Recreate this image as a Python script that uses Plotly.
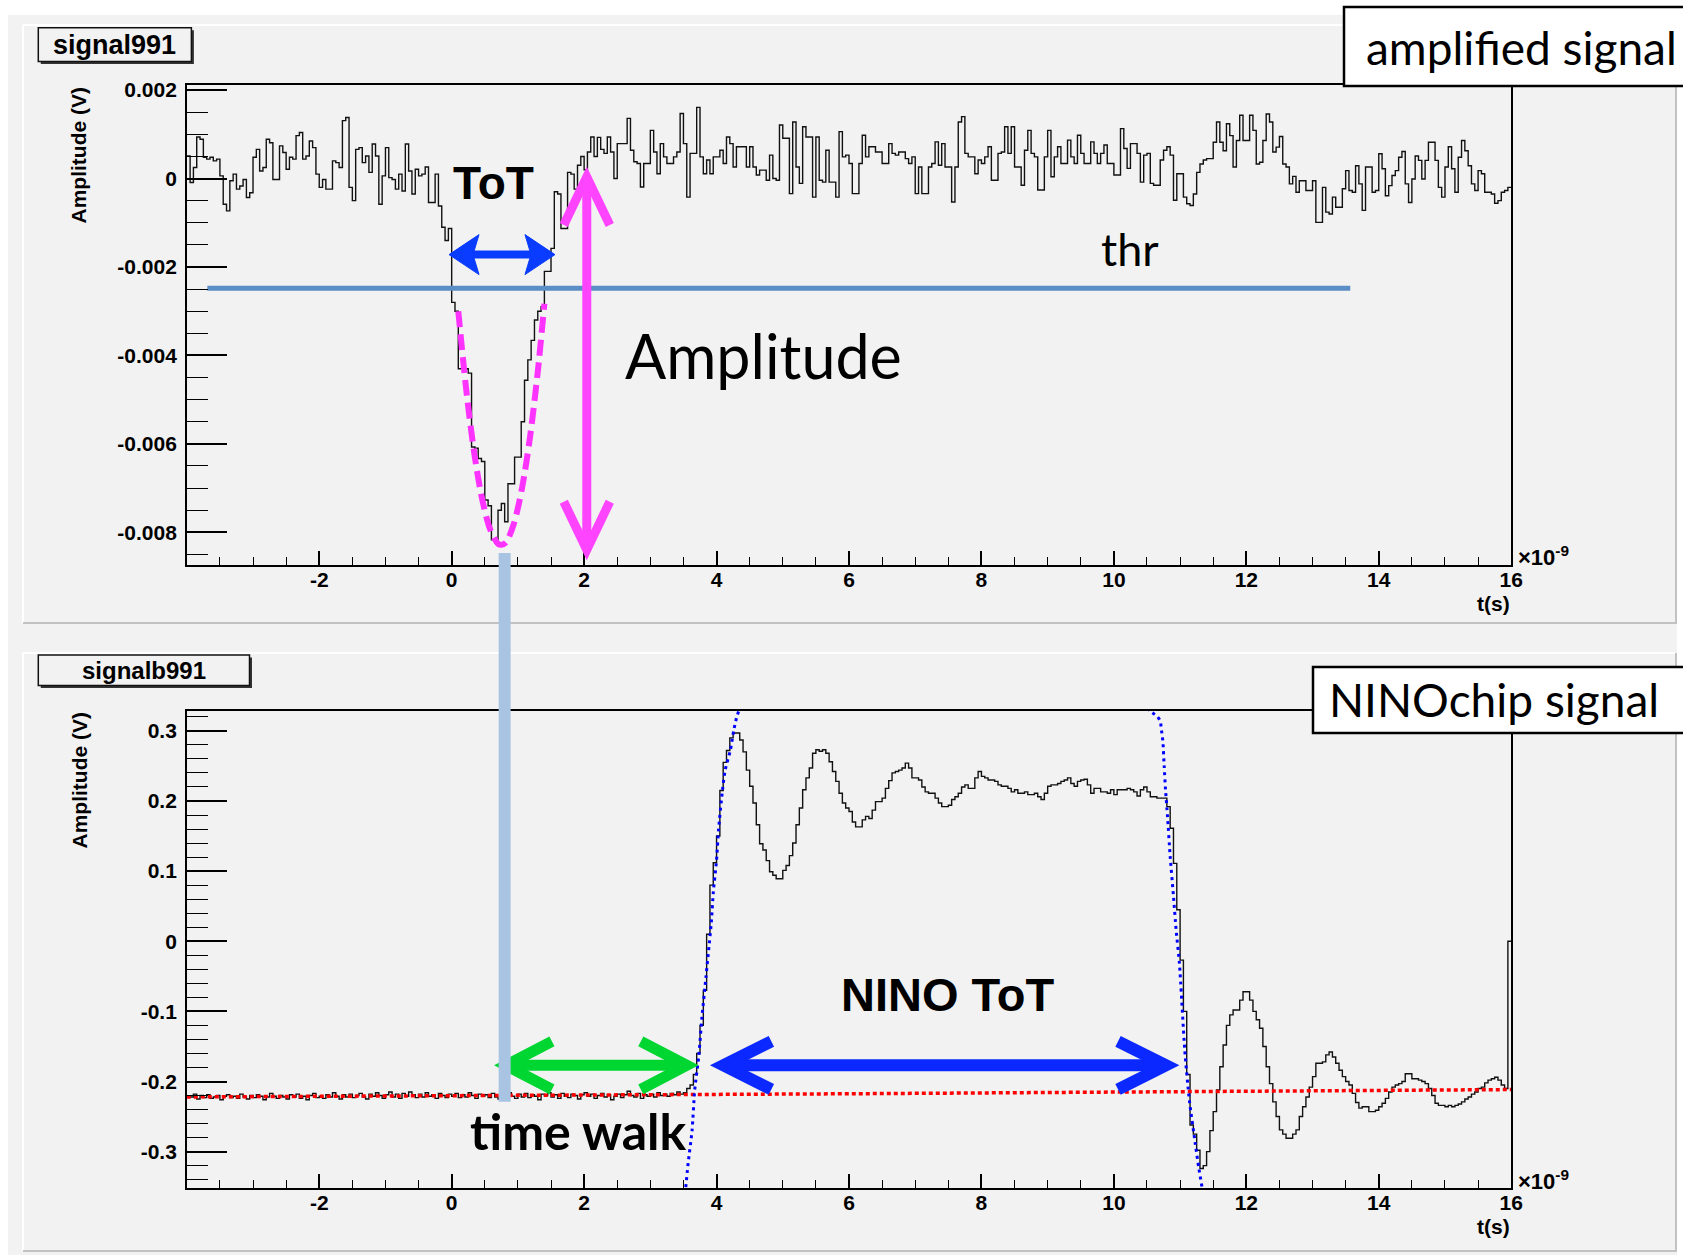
import math
import plotly.graph_objects as go

W, H = 1683, 1258

# Scope sampling shared by both channels (ns)
T_START = -4.0
BIN_NS = 0.05

# Amplified signal, one value per 0.05 ns bin starting at -4 ns, units of 1e-5 V
AMP_SIGNAL = [
    51, -9, 25, 94, 89, 48, 44, 48, 40, 44,
    6, -58, -73, -5, 10, -24, -17, -2, -43, -32,
    48, 66, 17, 25, 89, 81, -2, -2, 74, 59,
    21, 48, 44, 97, 104, 44, 51, 85, 70, 10,
    -20, -2, -24, -24, 40, 36, 25, 131, 138, -20,
    -50, 66, 70, 36, 51, 14, 78, 51, -58, 6,
    70, 2, -2, -24, 10, -28, 78, 17, -35, 21,
    6, 10, 26, -54, -54, 10, -62, -110, -140, -113,
    -280, -300, -430, -430, -430, -440, -607, -610, -633, -640,
    -727, -740, -817, -825, -750, -735, -776, -690, -690, -630,
    -630, -550, -456, -410, -366, -320, -300, -290, -210, -210,
    -158, -30, -35, -113, -113, 14, 10, -24,
    30, 50, 20, 60, 94, 50, 93, 66,
    57, 94, 60, 0, 79, 79, 79,
    136, 64, 38, 34, -19, 34, 34,
    109, 60, 11, 79, 49, 34, 34,
    49, 60, 147, 79, -42, 57, 57,
    161, 49, 11, 42, 11, 49, 49,
    64, 34, 94, 79, 26, 72, 72,
    72, 26, 72, 26, 8, 19, 19,
    -4, 53, 0, -4, 121, 91, 91,
    -34, 128, 26, -11, 117, 94, 94,
    -42, 94, -4, -8, 64, -8, -8,
    -42, 106, 49, 53, 34, -34, -34,
    34, 98, 49, 72, 72, 60, 60,
    34, 34, 79, 57, 53, 60, 60,
    45, 34, 49, -34, 26, -34, -34,
    26, 34, 83, 30, 79, 26, 26,
    -53, 26, 128, 140, 57, 49, 49,
    11, 42, 34, 49, 72, -4, -4,
    57, 60, 117, 57, 117, 26, 26,
    -15, 64, 109, 57, 49, -26, -26,
    49, 109, 4, 49, 72, 34, 34,
    87, 49, 34, 98, 57, 34, 34,
    83, 57, 34, 57, 76, 34, 34,
    8, 8, 113, 68, 23, 79, 79,
    57, -8, 53, 57, -11, -15, -15,
    42, 64, 72, 53, -49, 11, 11,
    -42, -57, -61, -35, 14, 33, 42, 45, 45, 82,
    128, 82, 63, 124, 97, 26, 86, 143, 86, 86,
    143, 109, 33, 37, 86, 146, 128, 60, 71, 95,
    33, 26, -12, 5, -31, -5, -5, -27, -27, -5,
    -99, -99, -20, -76, -80, -42, -65, -65, -23, 18,
    -27, -31, 29, -12, -72, 26, 26, -31, -27, 56,
    22, -39, -16, 7, 18, 48, 61, -12, -54, -1,
    51, 41, -1, 41, 82, 82, 41, -20, -42, 26,
    72, 22, -31, 48, 86, 63, 29, -12, -27, 18,
    11, -31, -31, -35, -56, -50, -31, -27, -20,
]

# NINO chip output, one value per 0.05 ns bin starting at -4 ns, units of mV
NINO_SIGNAL = [
    -221, -222, -218, -225, -220, -223, -219, -224, -222, -220,
    -226, -221, -219, -223, -221, -224, -218, -222, -225, -220,
    -223, -219, -221, -226, -222, -217, -221, -224, -220, -222,
    -225, -219, -222, -218, -224, -221, -226, -220, -217, -223,
    -221, -224, -219, -222, -216, -221, -225, -219, -222, -218,
    -223, -220, -217, -222, -225, -218, -221, -216, -220, -224,
    -219, -215, -222, -218, -224, -217, -221, -215, -219, -223,
    -218, -222, -216, -221, -219, -224, -217, -220, -223, -218,
    -221, -217, -223, -219, -222, -216, -220, -224, -218, -221,
    -219, -223, -217, -222, -225, -218, -220, -216, -221, -224,
    -218, -222, -217, -223, -219, -221, -226, -218, -220, -216,
    -222, -219, -224, -217, -221, -223, -218, -220, -225, -219,
    -216, -221, -218, -224, -220, -217, -222, -219, -226, -221,
    -218, -223, -219, -214, -220, -222, -217, -224, -219, -221,
    -218, -222, -216, -220, -218, -221, -217, -219, -215, -218,
    -216, -210, -205, -190, -160, -120, -70, 10, 80, 112,
    150, 215, 255, 272, 290, 297, 297, 287, 270, 244,
    221, 197, 166, 139, 130, 115, 99, 94, 89, 89,
    101, 108, 122, 140, 166, 190, 216, 233, 247, 268,
    273, 271, 273, 268, 256, 242, 228, 211, 197, 190,
    185, 170, 163, 163, 173, 178, 175, 187, 199, 199,
    204, 218, 229, 240, 242, 244, 247, 254, 247, 233,
    233, 230, 220, 213, 211, 211, 204, 197, 192, 192,
    194, 202, 206, 211, 220, 223, 218, 218, 233, 242,
    235, 233, 230, 230, 228, 223, 221, 221, 218, 213,
    216, 211, 211, 213, 209, 209, 211, 206, 202, 211,
    221, 223, 223, 225, 228, 230, 233, 225, 221, 228,
    230, 231, 223, 211, 218, 218, 213, 213, 211, 216,
    209, 216, 216, 216, 218, 216, 213, 207, 216, 220,
    213, 206, 206, 204, 204, 204, 192, 161, 111, 45,
    -27, -100, -190, -262, -275, -298, -324, -320, -300, -270,
    -243, -212, -179, -148, -120, -105, -98, -98, -84, -72,
    -72, -84, -100, -112, -124, -150, -179, -203, -229, -250,
    -269, -275, -281, -281, -275, -269, -250, -236, -222, -208,
    -193, -174, -174, -172, -162, -158, -165, -174, -184, -193,
    -200, -205, -217, -230, -238, -236, -236, -243, -243, -241,
    -236, -231, -224, -215, -208, -205, -203, -200, -189, -189,
    -196, -196, -198, -200, -203, -210, -220, -231, -234, -234,
    -236, -234, -236, -234, -232, -229, -225, -222, -218, -215,
    -210, -208, -202, -198, -196, -194, -198, -205, -210, 0,
]

# Gaussian-like fit over the amplified pulse (ns, 1e-5 V)
PULSE_FIT_T = [0.10, 0.22, 0.34, 0.46, 0.58, 0.70, 0.75, 0.82, 0.94, 1.06, 1.18, 1.30, 1.40]
PULSE_FIT_V = [-300, -478, -620, -725, -793, -826, -828, -823, -780, -702, -588, -437, -283]

# Threshold level (V) and its drawn extent (ns)
THR_V = -0.00248
THR_T = [-3.69, 13.57]

# Edge fits on the NINO output (ns, V)
LEAD_T = [3.48, 3.53, 3.57, 3.63, 3.67, 3.73, 3.78, 3.84, 3.88, 3.92, 3.95, 4.00, 4.03, 4.09, 4.13, 4.21, 4.26, 4.30, 4.34, 4.38]
LEAD_V = [-0.39, -0.355, -0.317, -0.27, -0.212, -0.165, -0.108, -0.051, -0.013, 0.026, 0.069, 0.116, 0.159, 0.216, 0.244, 0.273, 0.301, 0.318, 0.330, 0.345]
TRAIL_T = [10.50, 10.58, 10.66, 10.70, 10.72, 10.74, 10.76, 10.78, 10.81, 10.85, 10.90, 10.94, 10.99, 11.07, 11.14, 11.23, 11.28, 11.33, 11.37]
TRAIL_V = [0.332, 0.326, 0.320, 0.314, 0.300, 0.285, 0.249, 0.216, 0.178, 0.121, 0.064, 0.016, -0.032, -0.155, -0.227, -0.289, -0.322, -0.350, -0.375]

# Baseline fit on the NINO output (ns, V)
BASE_T = [-4.0, 6.0, 16.0]
BASE_V = [-0.222, -0.2175, -0.2115]

# Marker positions (ns, V)
TOT_T = [-0.04, 1.56]
TOT_V = -0.00172
AMP_ARROW_T = 2.04
AMP_ARROW_V = [0.00027, -0.00863]
PEAK_T = 0.80
PEAK_LINK_V = [-0.00847, -0.229]
WALK_T = [0.64, 3.73]
NINO_TOT_T = [3.90, 10.99]
ARROW_V = -0.177

# Axis ticks
X_TICKS = [-2, 0, 2, 4, 6, 8, 10, 12, 14, 16]
X_TICK_TEXT = ["-2", "0", "2", "4", "6", "8", "10", "12", "14", "16"]
TOP_TICKS = [0.002, 0.0, -0.002, -0.004, -0.006, -0.008]
TOP_TICK_TEXT = ["0.002", "0", "-0.002", "-0.004", "-0.006", "-0.008"]
BOT_TICKS = [0.3, 0.2, 0.1, 0.0, -0.1, -0.2, -0.3]
BOT_TICK_TEXT = ["0.3", "0.2", "0.1", "0", "-0.1", "-0.2", "-0.3"]

X_RANGE = [-4.0, 16.0]
TOP_RANGE = [-0.00873, 0.00212]
BOT_RANGE = [-0.352, 0.329]


def px(x):
    return x / W


def py(y):
    return 1 - y / H


X_DOM = [px(186.8), px(1511.2)]
TOP_DOM = [py(564.6), py(84.8)]
BOT_DOM = [py(1188.1), py(710.5)]

# data units per screen pixel
NS_PER_PX = (X_RANGE[1] - X_RANGE[0]) / ((X_DOM[1] - X_DOM[0]) * W)
TOPV_PER_PX = (TOP_RANGE[1] - TOP_RANGE[0]) / ((TOP_DOM[1] - TOP_DOM[0]) * H)


def to_paper_y(v, rng, dom):
    return dom[0] + (v - rng[0]) / (rng[1] - rng[0]) * (dom[1] - dom[0])


def hist_xy(vals, scale):
    xs = [T_START + i * BIN_NS for i in range(len(vals) + 1)]
    ys = [v * scale for v in vals] + [vals[-1] * scale]
    return xs, ys


fig = go.Figure()

# ---- top pad: amplified signal ----
hx, hy = hist_xy(AMP_SIGNAL, 1e-5)
fig.add_trace(go.Scatter(x=hx, y=hy, mode="lines", line=dict(color="#111111", width=1.4, shape="hv"),
                         xaxis="x", yaxis="y", showlegend=False))
fig.add_trace(go.Scatter(x=THR_T, y=[THR_V, THR_V], mode="lines", line=dict(color="#5b8ec6", width=5),
                         xaxis="x", yaxis="y", showlegend=False))
fig.add_trace(go.Scatter(x=PULSE_FIT_T, y=[v * 1e-5 for v in PULSE_FIT_V], mode="lines",
                         line=dict(color="#ff33ff", width=6, dash="16px,7px", shape="spline", smoothing=0.8),
                         xaxis="x", yaxis="y", showlegend=False))

# ---- bottom pad: NINO chip output ----
bx, by = hist_xy(NINO_SIGNAL, 1e-3)
fig.add_trace(go.Scatter(x=bx, y=by, mode="lines", line=dict(color="#111111", width=1.4, shape="hv"),
                         xaxis="x2", yaxis="y2", showlegend=False))
fig.add_trace(go.Scatter(x=BASE_T, y=BASE_V, mode="lines", line=dict(color="#ff0000", width=3.5, dash="4px,3px"),
                         xaxis="x2", yaxis="y2", showlegend=False))
for ft, fv in ((LEAD_T, LEAD_V), (TRAIL_T, TRAIL_V)):
    fig.add_trace(go.Scatter(x=ft, y=fv, mode="lines",
                             line=dict(color="#0000ff", width=3, dash="3px,4px", shape="spline", smoothing=0.6),
                             xaxis="x2", yaxis="y2", showlegend=False))

# ---- pads, frames and boxes ----
shapes = []


def rect_px(x0, y0, x1, y1, fill, lcolor=None, lwidth=0, layer="below"):
    return dict(type="rect", xref="paper", yref="paper", x0=px(x0), x1=px(x1), y0=py(y1), y1=py(y0),
                fillcolor=fill, line=dict(color=lcolor or fill, width=lwidth), layer=layer)


def line_px(x0, y0, x1, y1, color, width, layer="below"):
    return dict(type="line", xref="paper", yref="paper", x0=px(x0), y0=py(y0), x1=px(x1), y1=py(y1),
                line=dict(color=color, width=width), layer=layer)


shapes.append(rect_px(8, 15, 1677, 1255, "#f2f2f2"))
for top, bot in ((25, 623), (653, 1251)):
    shapes.append(line_px(23, top, 1676, top, "#ffffff", 2))
    shapes.append(line_px(23, top, 23, bot, "#ffffff", 2))
    shapes.append(line_px(23, bot, 1677, bot, "#c2c2c2", 2))
    shapes.append(line_px(1676, top, 1676, bot, "#c2c2c2", 2))

# histogram title panes with drop shadow
for (x0, y0, x1, y1) in ((38.3, 27.7, 191.4, 61.5), (38.3, 655.0, 249.5, 685.5)):
    shapes.append(rect_px(x0 + 2.5, y0 + 2.5, x1 + 2.5, y1 + 2.5, "#333333"))
    shapes.append(rect_px(x0, y0, x1, y1, "#f2f2f2", "#111111", 1.5))

# channel label boxes
shapes.append(rect_px(1344, 7, 1700, 86, "#ffffff", "#000000", 2.5, layer="above"))
shapes.append(rect_px(1313, 667, 1700, 733, "#ffffff", "#000000", 2.5, layer="above"))


def shaft(xref, yref, x0, y0, x1, y1, color, width):
    return dict(type="line", xref=xref, yref=yref, x0=x0, y0=y0, x1=x1, y1=y1,
                line=dict(color=color, width=width), layer="above")


def head(xref, yref, xa, ya, pts, color, width, filled=False):
    path = "M " + " L ".join(f"{x:.2f},{y:.2f}" for x, y in pts)
    if filled:
        path += " Z"
    d = dict(type="path", xref=xref, yref=yref, xsizemode="pixel", ysizemode="pixel",
             xanchor=xa, yanchor=ya, path=path, line=dict(color=color, width=width), layer="above")
    if filled:
        d["fillcolor"] = color
    return d


def miter_inset(length, spread, width):
    # distance from the stroke's outer tip back to the path vertex
    return (width / 2) * math.hypot(length, spread) / spread


def h_double_arrow(xref, yref, t0, t1, v, color, width, length, spread):
    d = miter_inset(length, spread, width)
    out = [shaft(xref, yref, t0 + d * NS_PER_PX, v, t1 - d * NS_PER_PX, v, color, width)]
    out.append(head(xref, yref, t0, v, [(d + length, spread), (d, 0), (d + length, -spread)], color, width))
    out.append(head(xref, yref, t1, v, [(-d - length, spread), (-d, 0), (-d - length, -spread)], color, width))
    return out


# ToT arrow on the amplified signal (filled heads)
TOT_BLUE = "#0a3cff"
shapes.append(shaft("x", "y", TOT_T[0] + 20 * NS_PER_PX, TOT_V, TOT_T[1] - 20 * NS_PER_PX, TOT_V, TOT_BLUE, 8))
shapes.append(head("x", "y", TOT_T[0], TOT_V, [(0, 0), (30, 20), (24, 0), (30, -20)], TOT_BLUE, 1, filled=True))
shapes.append(head("x", "y", TOT_T[1], TOT_V, [(0, 0), (-30, 20), (-24, 0), (-30, -20)], TOT_BLUE, 1, filled=True))

# amplitude arrow (vertical)
PINK = "#ff44ff"
pl, ps, pw = 48, 23, 9
pd = miter_inset(pl, ps, pw)
shapes.append(shaft("x", "y", AMP_ARROW_T, AMP_ARROW_V[0] - pd * TOPV_PER_PX,
                    AMP_ARROW_T, AMP_ARROW_V[1] + pd * TOPV_PER_PX, PINK, pw))
shapes.append(head("x", "y", AMP_ARROW_T, AMP_ARROW_V[0], [(-ps, -pd - pl), (0, -pd), (ps, -pd - pl)], PINK, pw))
shapes.append(head("x", "y", AMP_ARROW_T, AMP_ARROW_V[1], [(-ps, pd + pl), (0, pd), (ps, pd + pl)], PINK, pw))

# time-walk arrow and NINO ToT arrow
shapes += h_double_arrow("x2", "y2", WALK_T[0], WALK_T[1], ARROW_V, "#00d632", 11, 46, 24)
shapes += h_double_arrow("x2", "y2", NINO_TOT_T[0], NINO_TOT_T[1], ARROW_V, "#0a28ff", 12, 48, 24)

# link from the pulse peak down to the NINO baseline
shapes.append(dict(type="line", xref="x", yref="paper", x0=PEAK_T, x1=PEAK_T,
                   y0=to_paper_y(PEAK_LINK_V[0], TOP_RANGE, TOP_DOM),
                   y1=to_paper_y(PEAK_LINK_V[1], BOT_RANGE, BOT_DOM),
                   line=dict(color="#a9c4e3", width=12), layer="above"))

# ---- text ----
ann = []


def txt(text, x, y, size, family="Liberation Sans", xanchor="center", yanchor="middle", angle=0, color="#000000"):
    ann.append(dict(text=text, xref="paper", yref="paper", x=px(x), y=py(y), showarrow=False,
                    xanchor=xanchor, yanchor=yanchor, textangle=angle,
                    font=dict(family=family, size=size, color=color)))


txt("<b>signal991</b>", 114.8, 45, 27)
txt("<b>signalb991</b>", 143.9, 670, 24)
txt("<b>Amplitude (V)</b>", 78.5, 155, 21, angle=-90)
txt("<b>Amplitude (V)</b>", 78.5, 780, 21, angle=-90)
txt("<b>t(s)</b>", 1512, 603, 21, xanchor="right")
txt("<b>t(s)</b>", 1512, 1226, 21, xanchor="right")
txt("<b>×10<sup>-9</sup></b>", 1516, 556, 22, xanchor="left")
txt("<b>×10<sup>-9</sup></b>", 1516, 1180, 22, xanchor="left")
txt("amplified signal", 1521, 47, 46, family="Lato")
txt("NINOchip signal", 1494, 699, 46, family="Lato")
txt("<b>ToT</b>", 494, 183, 46)
txt("thr", 1130, 249, 45, family="Lato")
txt("Amplitude", 763, 355, 61, family="Lato")
txt("<b>NINO ToT</b>", 948, 995, 47)
txt("<b>time walk</b>", 578, 1131, 50, family="Lato")

# ---- axes ----
tick_font = dict(family="Liberation Sans", size=21, color="#000000", weight="bold")
common = dict(showline=True, linecolor="#000000", linewidth=1.5, mirror=True, showgrid=False,
              zeroline=False, ticks="inside", tickcolor="#000000", tickwidth=1.5, tickfont=tick_font,
              automargin=False)

x_minor = dict(tickmode="array", tickvals=[-4 + 0.5 * i for i in range(41)], ticks="inside",
               ticklen=8, tickcolor="#000000", tickwidth=1.3)
x_common = dict(common, range=X_RANGE, domain=X_DOM, tickmode="array", tickvals=X_TICKS,
                ticktext=X_TICK_TEXT, ticklen=14, minor=x_minor, ticklabelstandoff=-5)

top_minor = dict(tickmode="array", tickvals=[-0.0085 + 0.0005 * i for i in range(22)], ticks="inside",
                 ticklen=21, tickcolor="#000000", tickwidth=1.3)
bot_minor = dict(tickmode="array", tickvals=[-0.34 + 0.02 * i for i in range(34)], ticks="inside",
                 ticklen=21, tickcolor="#000000", tickwidth=1.3)

fig.update_layout(
    width=W, height=H, autosize=False,
    margin=dict(l=0, r=0, t=0, b=0, pad=0, autoexpand=False),
    paper_bgcolor="#ffffff", plot_bgcolor="rgba(0,0,0,0)",
    showlegend=False,
    xaxis=dict(x_common, anchor="y"),
    yaxis=dict(common, range=TOP_RANGE, domain=TOP_DOM, anchor="x", tickmode="array",
               tickvals=TOP_TICKS, ticktext=TOP_TICK_TEXT, ticklen=40, minor=top_minor, ticklabelstandoff=4),
    xaxis2=dict(x_common, anchor="y2"),
    yaxis2=dict(common, range=BOT_RANGE, domain=BOT_DOM, anchor="x2", tickmode="array",
                tickvals=BOT_TICKS, ticktext=BOT_TICK_TEXT, ticklen=40, minor=bot_minor, ticklabelstandoff=4),
    shapes=shapes,
    annotations=ann,
)

# keep the page exactly the size of the figure (no scrollbars)
PAGE_CSS = ("document.documentElement.style.margin='0';document.documentElement.style.overflow='hidden';"
            "document.body.style.margin='0';document.body.style.overflow='hidden';")
fig.write_html("out.html", config={"responsive": False}, post_script=PAGE_CSS)
